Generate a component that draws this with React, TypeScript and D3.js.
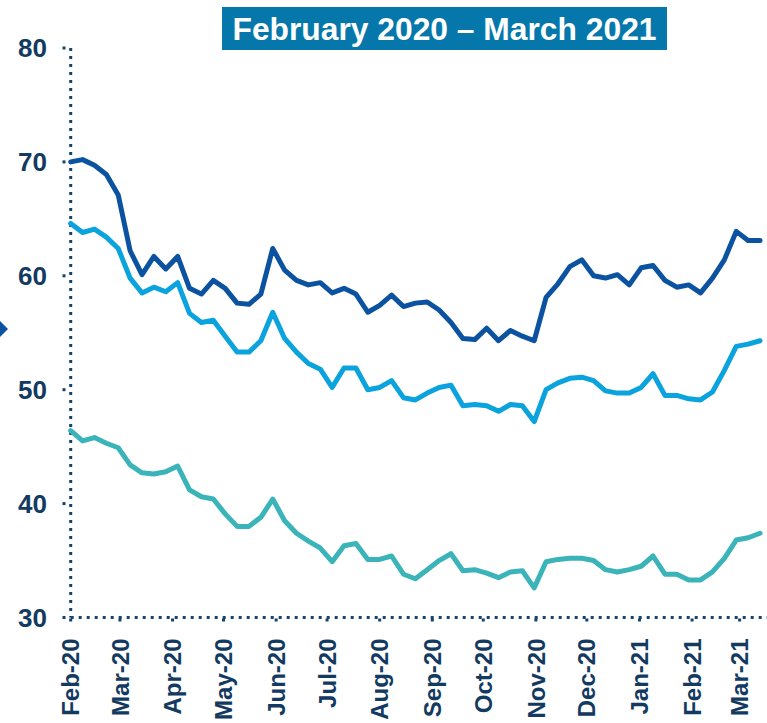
import * as d3 from 'd3';

const W = 767;
const H = 723;

const START = new Date(2020, 1, 1);
const TITLE = 'February 2020 – March 2021';
const Y_TICKS = [30, 40, 50, 60, 70, 80];

// weekly readings, first week of Feb 2020 to mid March 2021
const DARK = [
  70.0, 70.2, 69.7, 68.9, 67.1, 62.2, 60.1, 61.7, 60.6, 61.7,
  58.9, 58.4, 59.6, 58.9, 57.6, 57.5, 58.4, 62.4, 60.5, 59.6,
  59.2, 59.4, 58.5, 58.9, 58.4, 56.8, 57.4, 58.3, 57.3, 57.6,
  57.7, 57.0, 55.9, 54.5, 54.4, 55.4, 54.3, 55.2, 54.7, 54.3,
  58.1, 59.3, 60.8, 61.4, 60.0, 59.8, 60.1, 59.2, 60.7, 60.9,
  59.6, 59.0, 59.2, 58.5, 59.8, 61.4, 63.9, 63.1, 63.1,
];
const LIGHT = [
  64.6, 63.8, 64.1, 63.4, 62.4, 59.8, 58.5, 59.0, 58.6, 59.4,
  56.7, 55.9, 56.1, 54.7, 53.3, 53.3, 54.3, 56.8, 54.5, 53.3,
  52.3, 51.8, 50.2, 51.9, 51.9, 50.0, 50.2, 50.8, 49.3, 49.1,
  49.7, 50.2, 50.4, 48.6, 48.7, 48.6, 48.1, 48.7, 48.6, 47.2,
  50.0, 50.6, 51.0, 51.1, 50.8, 49.9, 49.7, 49.7, 50.2, 51.4,
  49.5, 49.5, 49.2, 49.1, 49.8, 51.7, 53.8, 54.0, 54.3,
];
const TEAL = [
  46.4, 45.5, 45.8, 45.3, 44.9, 43.4, 42.7, 42.6, 42.8, 43.3,
  41.2, 40.6, 40.4, 39.1, 38.0, 38.0, 38.8, 40.4, 38.5, 37.4,
  36.7, 36.1, 34.9, 36.3, 36.5, 35.1, 35.1, 35.4, 33.8, 33.4,
  34.2, 35.0, 35.6, 34.1, 34.2, 33.9, 33.5, 34.0, 34.1, 32.6,
  34.9, 35.1, 35.2, 35.2, 35.0, 34.2, 34.0, 34.2, 34.5, 35.4,
  33.8, 33.8, 33.3, 33.3, 34.0, 35.2, 36.8, 37.0, 37.4,
];

const SERIES = [
  { name: 'dark', values: DARK, color: '#0b52a0' },
  { name: 'light', values: LIGHT, color: '#0aa3dd' },
  { name: 'teal', values: TEAL, color: '#3ab4b9' },
];

const AXIS_COLOR = '#16436b';
const TEXT_COLOR = '#133a60';
const FONT = '"Liberation Sans", Arial, sans-serif';

const weekDate = (i: number) => d3.timeDay.offset(START, i * 7);

export default function App() {
  const n = DARK.length;
  const x = d3.scaleTime()
    .domain([START, weekDate(n - 1)])
    .range([70.7, 760]);
  const y = d3.scaleLinear().domain([30, 80]).range([617.5, 48]);

  const line = d3.line<number>()
    .x((_, i) => x(weekDate(i)))
    .y(d => y(d));

  const months = d3.timeMonth.range(START, d3.timeDay.offset(weekDate(n - 1), 1));
  const fmt = d3.timeFormat('%b-%y');
  const x0 = x(START);
  const yBase = y(30);

  return (
    <svg width={W} height={H} style={{ position: 'absolute', left: 0, top: 0, background: '#fff' }}>
      {/* title box */}
      <rect x={222} y={7} width={445} height={43} fill="#0677aa" />
      <text x={444.5} y={40} textAnchor="middle" fill="#fff" fontFamily={FONT}
        fontWeight={700} fontSize={31} textLength={424} lengthAdjust="spacingAndGlyphs">{TITLE}</text>

      {/* left marker */}
      <polygon points="-4,317 8,329 -4,341" fill="#0b52a0" />

      {/* y axis */}
      <line x1={x0} x2={x0} y1={y(80)} y2={yBase} stroke={AXIS_COLOR}
        strokeWidth={3} strokeDasharray="3,5" />
      {Y_TICKS.map(t => (
        <g key={t}>
          <rect x={62.5} y={y(t) - 1.5} width={3} height={3} fill={AXIS_COLOR} />
          <text x={47} y={y(t)} dy="0.36em" textAnchor="end" fill={TEXT_COLOR}
            fontFamily={FONT} fontWeight={700} fontSize={26}>{t}</text>
        </g>
      ))}

      {/* x axis */}
      <line x1={x0} x2={767} y1={yBase} y2={yBase} stroke={AXIS_COLOR}
        strokeWidth={3} strokeDasharray="3,5" />
      {months.map(m => (
        <g key={m.getTime()} transform={`translate(${x(m)},0)`}>
          <rect x={-1.5} y={yBase + 1} width={3} height={3} fill={AXIS_COLOR} />
          <text transform={`translate(0,${yBase + 21}) rotate(-90)`} dy="0.36em"
            textAnchor="end" fill={TEXT_COLOR} fontFamily={FONT} fontWeight={700}
            fontSize={24}>{fmt(m)}</text>
        </g>
      ))}

      {/* series */}
      {SERIES.map(s => (
        <path key={s.name} d={line(s.values) ?? ''} fill="none" stroke={s.color}
          strokeWidth={5} strokeLinejoin="round" strokeLinecap="round" />
      ))}
    </svg>
  );
}
